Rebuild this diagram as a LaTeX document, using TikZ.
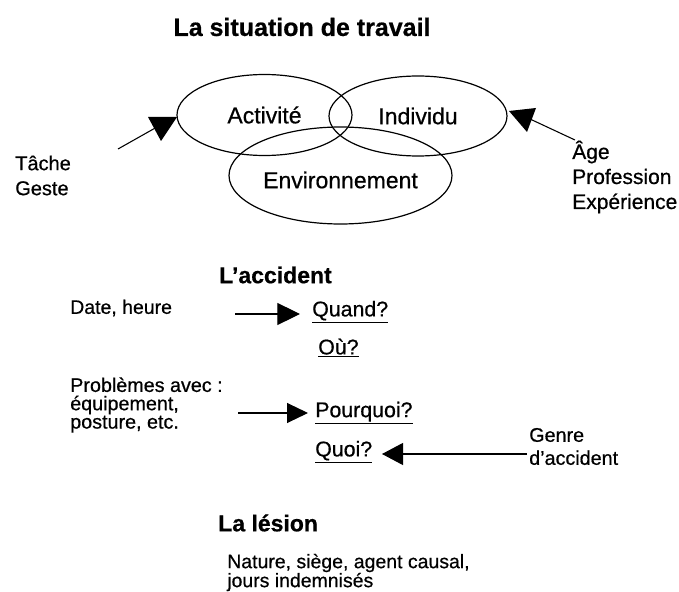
\documentclass[tikz,border=0pt]{standalone}
\usepackage{fontspec}
\setmainfont{Liberation Sans}[FakeBold=0.6]
\usetikzlibrary{arrows.meta,shapes.geometric}
\begin{document}
\begin{tikzpicture}[x=0.75pt,y=-0.75pt,
  lbl/.style={inner sep=0pt, anchor=west, align=left},
  ellbox/.style={draw, ellipse, line width=0.9pt, inner sep=0pt},
  conn/.style={line width=0.8pt},
  headA/.style={-{Triangle[length=17pt,width=16.5pt]}},
  headB/.style={-{Triangle[length=15.75pt,width=15pt]}},
  headC/.style={-{Triangle[length=15.75pt,width=16.5pt]}},
  ttl/.style={inner sep=0pt, anchor=west, font=\fontsize{17.25}{20}\selectfont\bfseries},
  body/.style={lbl, font=\fontsize{14.6}{17}\selectfont},
  quest/.style={lbl, font=\fontsize{16}{19}\selectfont}]
\useasboundingbox (0,0) rectangle (679,592);

% title
\node[inner sep=0pt, font=\fontsize{18.75}{22}\selectfont\bfseries] (title) at (302,27) {La situation de travail};

% ellipses
\node[ellbox, minimum width=131.25pt, minimum height=60.75pt, font=\fontsize{17.25}{20}\selectfont] (act) at (264.5,115) {Activité};
\node[ellbox, minimum width=133.5pt, minimum height=60pt, font=\fontsize{17.25}{20}\selectfont] (ind) at (418,116) {Individu};
\node[ellbox, minimum width=167.25pt, minimum height=72.75pt] (envell) at (340.5,175.5) {};
\node[inner sep=0pt, font=\fontsize{17.25}{20}\selectfont] (env) at (340.5,180) {Environnement};

% left side
\node[lbl, font=\fontsize{15}{18.75}\selectfont] (tache) at (15,175.5) {Tâche\\Geste};
\coordinate (ta) at (118,149);
\coordinate (tb) at (157,127);
\draw[conn] (ta) -- (tb);
\fill (148,117) -- (177,117) -- (161,141) -- cycle;

% right side
\node[lbl, font=\fontsize{15.75}{18.75}\selectfont] (age) at (572,177) {Âge\\Profession\\Expérience};
\coordinate (aa) at (575,140);
\coordinate (ab) at (530,119);
\draw[conn] (aa) -- (ab);
\fill (509,111) -- (536,108) -- (527,132) -- cycle;

% L'accident
\node[ttl] (acc) at (219,275) {L'accident};
\node[body] (date) at (70,308) {Date, heure};
\node[quest] (quand) at (312,312) {\underline{Quand?}};
\node[quest] (ou) at (318,348) {\underline{Où?}};
\coordinate (d1) at (235,314);
\coordinate (d2) at (300,314);
\draw[conn, headA] (d1) -- (d2);

\node[lbl, font=\fontsize{14.8}{13.75}\selectfont] (prob) at (70,405) {Problèmes avec :\\équipement,\\posture, etc.};
\node[quest] (pourq) at (315,413) {\underline{Pourquoi?}};
\coordinate (p1) at (238,413);
\coordinate (p2) at (308,413);
\draw[conn, headB] (p1) -- (p2);

\node[quest] (quoi) at (315,452) {\underline{Quoi?}};
\node[lbl, font=\fontsize{14.8}{17.25}\selectfont] (genre) at (529,446.5) {Genre\\d'accident};
\coordinate (g1) at (527,454);
\coordinate (g2) at (382,454);
\draw[conn, headC] (g1) -- (g2);

% La lesion
\node[ttl] (les) at (218,523) {La lésion};
\node[lbl, font=\fontsize{14.6}{14.25}\selectfont] (nat) at (227,572.5) {Nature, siège, agent causal,\\jours indemnisés};
\end{tikzpicture}
\end{document}
